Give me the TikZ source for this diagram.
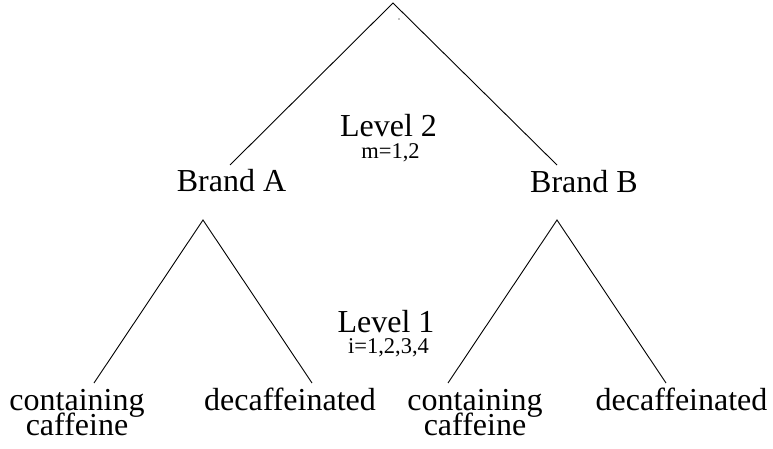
\documentclass[tikz,border=0pt]{standalone}
\usepackage{fontspec}
\setmainfont{Liberation Serif}
\usepackage{tikz}
\usetikzlibrary{positioning}
\newcommand\treefont{\fontsize{32}{25}\selectfont\lineskiplimit=-30pt\relax}

\begin{document}
\begin{tikzpicture}[x=1pt, y=-1pt, line width=0.9pt,
	big/.style={font=\treefont, inner sep=0pt, anchor=base, align=center},
	small/.style={font=\fontsize{22.5}{24}\selectfont, inner sep=0pt, anchor=base}]
	\useasboundingbox (0,0) rectangle (773,449);
	% branching points
	\coordinate (root) at (393,3);
	\coordinate (forkA) at (203,220);
	\coordinate (forkB) at (557,220);
	\coordinate (endA) at (230,165);
	\coordinate (endB) at (557,165);
	\coordinate (endAc) at (94,383);
	\coordinate (endAd) at (312,383);
	\coordinate (endBc) at (448,383);
	\coordinate (endBd) at (666,383);
	\fill[gray] (399,19) circle (0.8pt);
	% labels
	\node[big] (brandA) at (231.5,192) {Brand A};
	\node[big] (brandB) at (584,193) {Brand B};
	\node[big] (lev2) at (388.5,137) {Level 2};
	\node[small] (m) at (390.5,159) {m=1,2};
	\node[big] (lev1) at (386,332) {Level 1};
	\node[small] (i) at (388.5,353) {i=1,2,3,4};
	\node[big] (cafA) at (77,435) {containing\\caffeine};
	\node[big] (decA) at (290,410) {decaffeinated};
	\node[big] (cafB) at (475,435) {containing\\caffeine};
	\node[big] (decB) at (681.5,410) {decaffeinated};
	% tree
	\draw (endA) -- (root) -- (endB);
	\draw (endAc) -- (forkA) -- (endAd);
	\draw (endBc) -- (forkB) -- (endBd);
\end{tikzpicture}
\end{document}
